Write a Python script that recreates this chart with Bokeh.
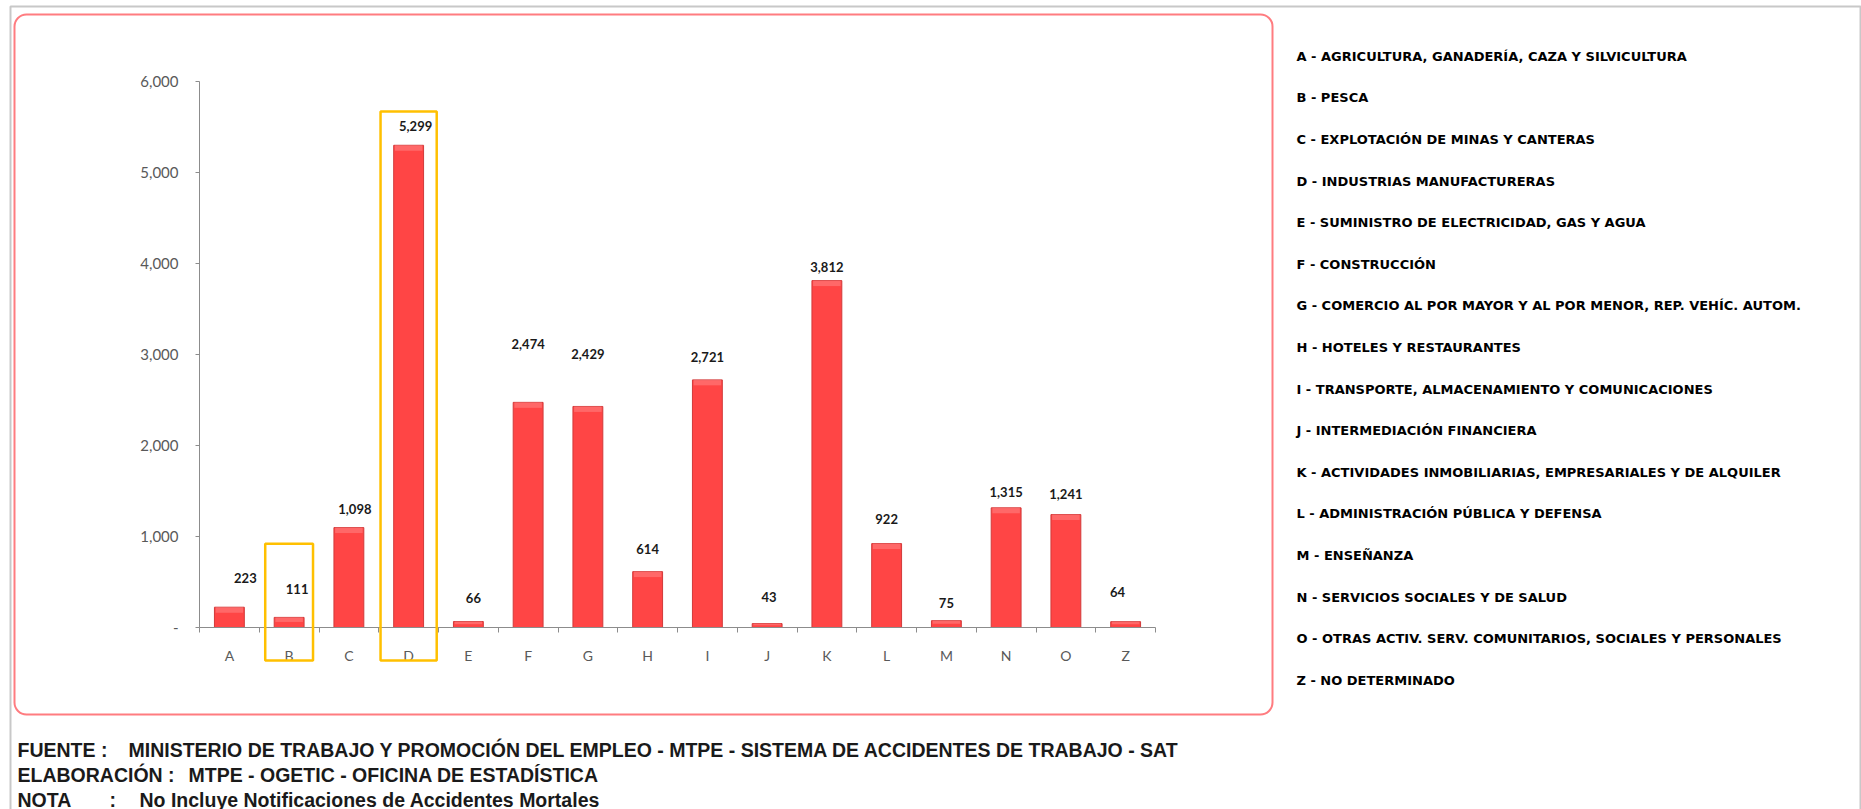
from bokeh.plotting import figure
from bokeh.models import (Range1d, FixedTicker, LinearAxis, NumeralTickFormatter,
                          BoxAnnotation, ColumnDataSource)
from bokeh.core.properties import value
from bokeh.embed import file_html
from bokeh.resources import INLINE

# ---------------- data ----------------
categories = ["A", "B", "C", "D", "E", "F", "G", "H", "I", "J", "K", "L", "M", "N", "O", "Z"]
accidents = [223, 111, 1098, 5299, 66, 2474, 2429, 614, 2721, 43, 3812, 922, 75, 1315, 1241, 64]
y_ticks = [0, 1000, 2000, 3000, 4000, 5000, 6000]
sectors = [
    "A - AGRICULTURA, GANADERÍA, CAZA Y SILVICULTURA",
    "B - PESCA",
    "C - EXPLOTACIÓN DE MINAS Y CANTERAS",
    "D - INDUSTRIAS MANUFACTURERAS",
    "E - SUMINISTRO DE ELECTRICIDAD, GAS Y AGUA",
    "F - CONSTRUCCIÓN",
    "G - COMERCIO AL POR MAYOR Y AL POR MENOR, REP. VEHÍC. AUTOM.",
    "H - HOTELES Y RESTAURANTES",
    "I - TRANSPORTE, ALMACENAMIENTO Y COMUNICACIONES",
    "J - INTERMEDIACIÓN FINANCIERA",
    "K - ACTIVIDADES INMOBILIARIAS, EMPRESARIALES Y DE ALQUILER",
    "L - ADMINISTRACIÓN PÚBLICA Y DEFENSA",
    "M - ENSEÑANZA",
    "N - SERVICIOS SOCIALES Y DE SALUD",
    "O - OTRAS ACTIV. SERV. COMUNITARIOS, SOCIALES Y PERSONALES",
    "Z - NO DETERMINADO",
]
highlighted = ["B", "D"]
footer_lines = [
    ["FUENTE :", "MINISTERIO DE TRABAJO Y PROMOCIÓN DEL EMPLEO - MTPE - SISTEMA DE ACCIDENTES DE TRABAJO - SAT"],
    ["ELABORACIÓN :", "MTPE - OGETIC - OFICINA DE ESTADÍSTICA"],
    ["NOTA", ":", "No Incluye Notificaciones de Accidentes Mortales"],
]

# ---------------- layout / style (page pixels) ----------------
W, H = 1861, 809
OFF = 0                       # observed position of the canvas on the page
FRAME_L, FRAME_R = 199, 1155  # category axis extent (page x)
TOP_Y, ZERO_Y = 81, 627       # 6,000 and 0 (page y)
PXU = (FRAME_R - FRAME_L) / len(categories)
PYU = (ZERO_Y - TOP_Y) / 6000.0


def X(px):
    return (px - FRAME_L) / PXU


def Y(py):
    return (ZERO_Y - py) / PYU


label_lift = [29, 28, 19, 19, 23, 58, 52, 23, 23, 27, 14, 25, 18, 16, 21, 30]
label_shift = [16, 8, 6, 7, 5, 0, 0, 0, 0, 2, 0, 0, 0, 0, 0, -8]
box_top = {"B": 920, "D": 5670}
box_half = {"B": 0.40, "D": 0.47}

TICK_FONT = "Lato"
BAR_RED = "#FF4545"

p = figure(width=W, height=H, output_backend="svg", toolbar_location=None,
           x_range=Range1d(X(OFF), X(OFF + W)),
           y_range=Range1d(Y(OFF + H), Y(OFF)),
           min_border=0)
p.outline_line_color = None
p.background_fill_color = "white"
p.border_fill_color = "white"
p.grid.visible = False

centers = [i + 0.5 for i in range(len(categories))]
hl = [v - min(60, 0.45 * v) for v in accidents]
src = ColumnDataSource(dict(x=centers, top=accidents, hl=hl, cat=categories,
                            lab=[f"{v:,}" for v in accidents],
                            lift=[-l for l in label_lift], shift=label_shift))

# outer grey border and red rounded frame
p.add_layout(BoxAnnotation(left=X(10), right=X(1860), top=Y(6), bottom=Y(H + 40),
                           fill_alpha=0, line_color="#C8C8C8", line_alpha=1,
                           line_width=2, level="underlay"))
p.add_layout(BoxAnnotation(left=X(14), right=X(1272), top=Y(14), bottom=Y(714),
                           fill_alpha=0, line_color="#FF7C80", line_alpha=1, line_width=2,
                           border_radius=12, level="underlay"))

p.vbar(x="x", top="top", bottom=0, width=0.5, source=src,
       fill_color=BAR_RED, line_color="#D23A3A", line_width=1)
p.vbar(x="x", top="top", bottom="hl", width=0.46, source=src,
       fill_color="#FF8080", line_color=None, fill_alpha=0.6)

p.text(x="x", y="top", text="lab", source=src, x_offset="shift", y_offset="lift",
       text_align="center", text_baseline="middle",
       text_font=value(TICK_FONT), text_font_size="13px", text_font_style="bold",
       text_color="#1a1a1a")

# highlight boxes
for c in highlighted:
    i = categories.index(c)
    p.add_layout(BoxAnnotation(left=centers[i] - box_half[c], right=centers[i] + box_half[c],
                               top=box_top[c], bottom=Y(660),
                               fill_alpha=0, line_color="#FFC000", line_alpha=1,
                               line_width=2.5))

# y axis (drawn at x = 0 of the category scale)
ya = p.yaxis[0]
ya.ticker = FixedTicker(ticks=y_ticks)
ya.formatter = NumeralTickFormatter(format="0,0")
ya.major_label_overrides = {0: "-"}
ya.fixed_location = 0
ya.bounds = (0, 6000)
ya.axis_line_color = "#8C8C8C"
ya.major_tick_line_color = "#8C8C8C"
ya.major_tick_out = 4
ya.major_tick_in = 0
ya.minor_tick_line_color = None
ya.major_label_standoff = 17
ya.major_label_text_font = TICK_FONT
ya.major_label_text_font_size = "15px"
ya.major_label_text_color = "#595959"

# x axis: labels at category centres
xa = p.xaxis[0]
xa.ticker = FixedTicker(ticks=centers)
xa.major_label_overrides = {c: cat for c, cat in zip(centers, categories)}
xa.fixed_location = 0
xa.axis_line_color = None
xa.major_tick_line_color = None
xa.minor_tick_line_color = None
xa.major_label_standoff = 13
xa.major_label_text_font = TICK_FONT
xa.major_label_text_font_size = "14px"
xa.major_label_text_color = "#595959"

# x axis: line and ticks between categories
xb = LinearAxis(ticker=FixedTicker(ticks=list(range(len(categories) + 1))),
                fixed_location=0, bounds=(0, len(categories)))
xb.major_label_overrides = {i: "" for i in range(len(categories) + 1)}
xb.axis_line_color = "#8C8C8C"
xb.major_tick_line_color = "#8C8C8C"
xb.major_tick_out = 5
xb.major_tick_in = 0
xb.minor_tick_line_color = None
p.add_layout(xb, "below")

# sector legend
leg_y = [Y(55.8 + i * 41.6) for i in range(len(sectors))]
p.text(x=[X(1296)] * len(sectors), y=leg_y, text=sectors,
       text_baseline="middle", text_align="left",
       text_font=value("DejaVu Sans"), text_font_size="13px",
       text_font_style="bold", text_color="black")

# footer
FOOT_FONT = "Liberation Sans"
foot_y = [749, 774, 799]
foot_x = [[17, 128], [17, 188], [17, 109, 139]]
for parts, yy, xs in zip(footer_lines, foot_y, foot_x):
    p.text(x=[X(v) for v in xs], y=[Y(yy)] * len(parts), text=parts,
           text_baseline="middle", text_align="left",
           text_font=value(FOOT_FONT), text_font_size="19.5px",
           text_font_style="bold", text_color="#1a1a1a")

open("out.html", "w").write(file_html(p, INLINE))
